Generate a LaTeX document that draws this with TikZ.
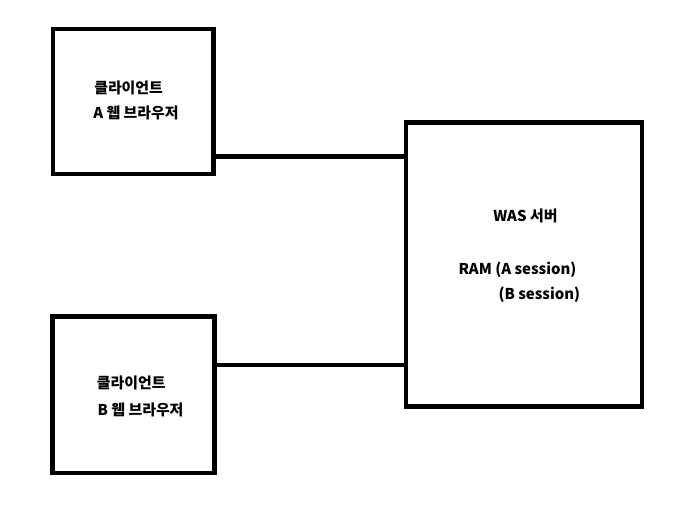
\documentclass[tikz,border=0pt]{standalone}
\usepackage{fontspec}
\setmainfont{Noto Sans CJK KR}
\usepackage{tikz}

\begin{document}
\begin{tikzpicture}
  [x=0.75pt,y=-0.75pt,every node/.style={inner sep=0pt}]
 \tikzset{box/.style = {draw,line width=3.4pt},
          label text/.style = {anchor=west,font=\fontsize{11.2pt}{13pt}\selectfont\bfseries},
          link/.style = {line width=3.4pt}}
  \useasboundingbox (0,0) rectangle (700,512);
  \node[box,minimum width=120.5pt,minimum height=108.8pt] (clientA) at (133.4,101.5) {};
  \node[box,minimum width=121.5pt,minimum height=117.2pt] (clientB) at (133.6,394.8) {};
  \node[box,minimum width=177.2pt,minimum height=213pt] (was) at (523.9,264.5) {};

  \node[label text] (a1) at (94,88)  {클라이언트};
  \node[label text] (a2) at (93,113) {A 웹 브라우저};
  \node[label text] (b1) at (96.7,383) {클라이언트};
  \node[label text] (b2) at (97.3,410) {B 웹 브라우저};
  \node[label text] (w1) at (493,216) {WAS 서버};
  \node[label text] (w2) at (458.3,269.5) {RAM (A session)};
  \node[label text] (w3) at (498.3,295) {(B session)};

  \path (clientA.south east) ++(-4,-19.8) coordinate (pa);
  \path (clientB.north east) ++(-2,50.6) coordinate (pb);
  \foreach \from in {pa,pb}
    \draw[link] (\from) -- (\from -| was.west);

\end{tikzpicture}
\end{document}
